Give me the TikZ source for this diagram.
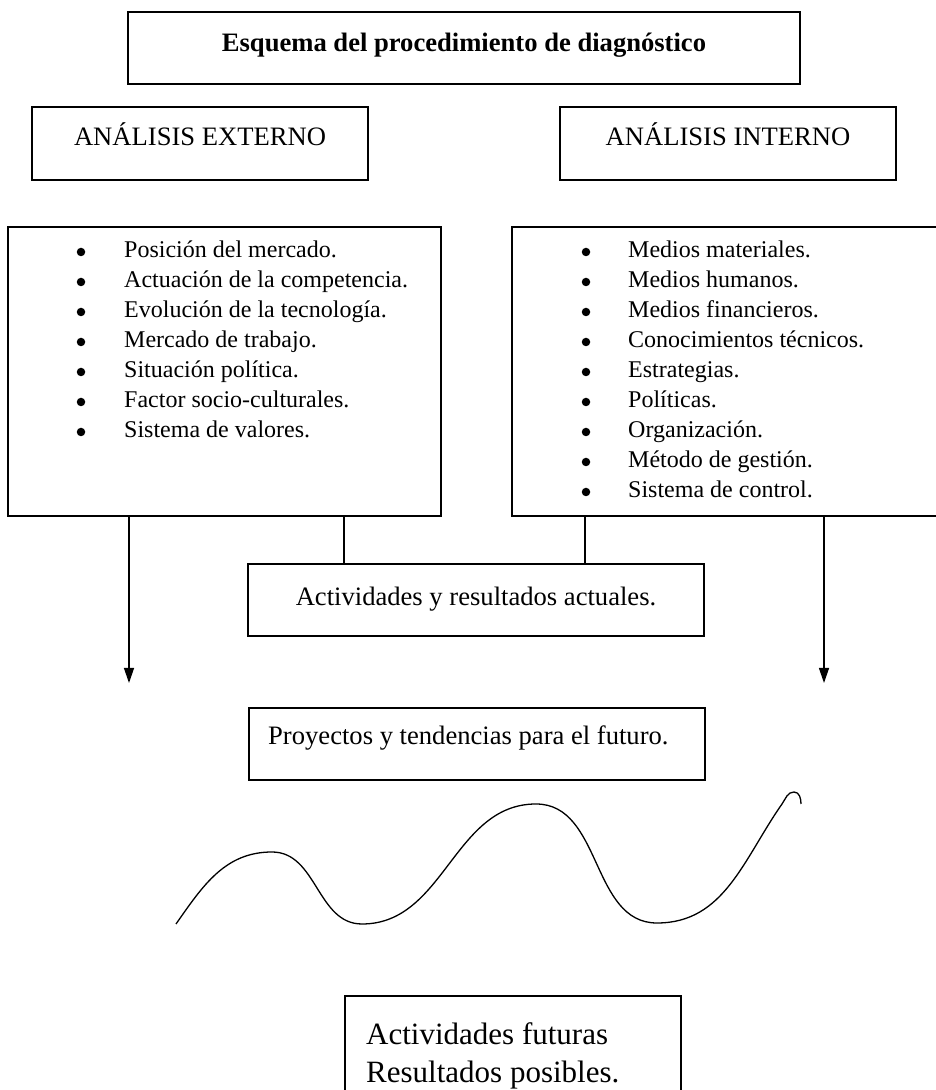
\documentclass[tikz,border=0pt]{standalone}
\usepackage{fontspec}
\setmainfont{Liberation Serif}
\usetikzlibrary{arrows.meta}

\begin{document}
\begin{tikzpicture}[x=1pt,y=1pt,
  box/.style={draw, line width=1.6pt, inner sep=0pt},
  lbl/.style={font=\fontsize{26.6}{32}\selectfont, anchor=base, inner sep=0pt},
  item/.style={font=\fontsize{24}{30}\selectfont, anchor=base west, inner sep=0pt},
  dot/.style={circle, fill, inner sep=0pt, minimum size=8.5pt},
  link/.style={line width=1.3pt},
  arr/.style={line width=1.3pt, -{Triangle[width=10pt,length=15pt]}}]
\useasboundingbox (0,0) rectangle (935,1090);

% title
\node[box, minimum width=672, minimum height=72] (title) at (464,1042) {};
\node[lbl, font=\fontsize{26.6}{32}\selectfont\bfseries] (titletxt) at (464,1038)
  {Esquema del procedimiento de diagnóstico};

% the two analyses
\node[box, minimum width=336, minimum height=73] (ext) at (200,946.5) {};
\node[lbl] (exttxt) at (200,944) {ANÁLISIS EXTERNO};
\node[box, minimum width=336, minimum height=73] (int) at (728,946.5) {};
\node[lbl] (inttxt) at (728,944) {ANÁLISIS INTERNO};

% lists
\node[box, minimum width=433, minimum height=289] (extlist) at (224.5,718.5) {};
\foreach \txt [count=\i] in {Posición del mercado., Actuación de la competencia.,
    Evolución de la tecnología., Mercado de trabajo., Situación política.,
    Factor socio-culturales., Sistema de valores.}
{
  \node[dot] (extdot\i) at (81,868-30*\i) {};
  \node[item] (extitem\i) at (124,862-30*\i) {\txt};
}
\node[box, minimum width=448, minimum height=289] (intlist) at (736,718.5) {};
\foreach \txt [count=\i] in {Medios materiales., Medios humanos., Medios financieros.,
    Conocimientos técnicos., Estrategias., Políticas., Organización.,
    Método de gestión., Sistema de control.}
{
  \node[dot] (intdot\i) at (586,868-30*\i) {};
  \node[item] (intitem\i) at (628,862-30*\i) {\txt};
}

% current activities
\node[box, minimum width=456, minimum height=72] (act) at (476,490) {};
\node[lbl] (acttxt) at (476,484) {Actividades y resultados actuales.};
\draw[link] (extlist.south -| 344,0) -- (act.north -| 344,0);
\draw[link] (intlist.south -| 585,0) -- (act.north -| 585,0);

% arrows down
\coordinate (endL) at (129,407);
\coordinate (endR) at (824,407);
\draw[arr] (extlist.south -| endL) -- (endL);
\draw[arr] (intlist.south -| endR) -- (endR);

% future
\node[box, minimum width=456, minimum height=72] (proj) at (477,346) {};
\node[lbl, anchor=base west] (projtxt) at (268,345) {Proyectos y tendencias para el futuro.};

% wave
\draw[link] (176,166) to[out=55,in=180] (272,238) to[out=0,in=180] (362,166)
  to[out=0,in=180] (536,286) to[out=0,in=180] (657,167)
  to[out=0,in=235] (782,286) to[out=55,in=180] (794,298) to[out=0,in=90] (801,286);

% results
\node[box, minimum width=336, minimum height=130, anchor=north west] (res) at (344,95) {};
\node[lbl, anchor=base west, align=left, font=\fontsize{31}{38}\selectfont]
  (restxt) at (366,8) {Actividades futuras\\Resultados posibles.};
\end{tikzpicture}
\end{document}
